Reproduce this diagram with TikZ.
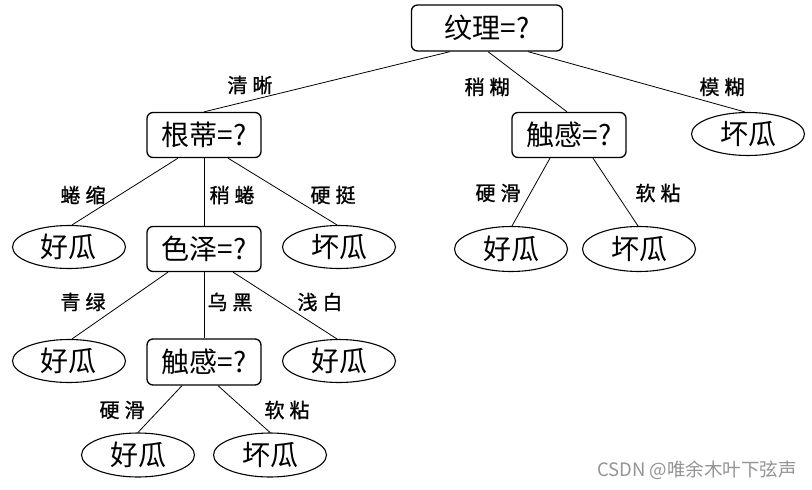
\documentclass[tikz,border=0pt]{standalone}
\usepackage{fontspec}
\newfontfamily\cjk{Noto Sans CJK SC}
\newfontfamily\cjklab[FakeBold=1]{Noto Sans CJK SC}
\usetikzlibrary{shapes.geometric}
\newcommand{\lbl}[2]{#1\hspace{5pt}#2}
\begin{document}
\begin{tikzpicture}[x=1pt,y=-1pt,
  testbox/.style={draw, line width=1.3pt, rounded corners=6pt, minimum width=114pt, minimum height=45pt, inner sep=0pt, font=\cjk\fontsize{28}{28}\selectfont},
  leaf/.style={draw, ellipse, line width=1.1pt, minimum width=113pt, minimum height=43pt, inner sep=0pt, font=\cjk\fontsize{28}{28}\selectfont},
  lab/.style={font=\cjklab\fontsize{20}{20}\selectfont, inner sep=0pt},
  conn/.style={line width=0.8pt}]
\path[fill=white] (0,0) rectangle (812,490);
% nodes
\node[testbox, minimum width=151pt, minimum height=46pt] (root) at (487,28) {纹理=?};
\node[testbox] (gendi) at (204,135) {根蒂=?};
\node[testbox] (chugan1) at (569,135) {触感=?};
\node[leaf] (huai1) at (748,134) {坏瓜};
\node[leaf] (hao1) at (69,247) {好瓜};
\node[testbox] (seze) at (204,249) {色泽=?};
\node[leaf] (huai2) at (339,247) {坏瓜};
\node[leaf, minimum height=45pt] (hao2) at (511,249) {好瓜};
\node[leaf, minimum height=45pt] (huai3) at (639,249) {坏瓜};
\node[leaf] (hao3) at (69,361) {好瓜};
\node[testbox, minimum height=46pt] (chugan2) at (204,362) {触感=?};
\node[leaf] (hao4) at (339,361) {好瓜};
\node[leaf, minimum height=44pt] (hao5) at (138,455) {好瓜};
\node[leaf, minimum height=44pt] (huai4) at (270,455) {坏瓜};
% connectors
\draw[conn] ([xshift=-37pt]root.south) -- (gendi.north);
\draw[conn] ([xshift=1pt]root.south) -- ([xshift=-2pt]chugan1.north);
\draw[conn] ([xshift=41pt]root.south) -- ([xshift=-3pt]huai1.north);
\draw[conn] ([xshift=-26pt]gendi.south) -- ([xshift=3pt]hao1.north);
\draw[conn] (gendi.south) -- (seze.north);
\draw[conn] ([xshift=24pt]gendi.south) -- ([xshift=-2pt]huai2.north);
\draw[conn] ([xshift=-19pt]chugan1.south) -- ([xshift=1pt]hao2.north);
\draw[conn] ([xshift=24pt]chugan1.south) -- ([xshift=-1pt]huai3.north);
\draw[conn] ([xshift=-36pt]seze.south) -- ([xshift=3pt]hao3.north);
\draw[conn] (seze.south) -- (chugan2.north);
\draw[conn] ([xshift=29pt]seze.south) -- ([xshift=-2pt]hao4.north);
\draw[conn] ([xshift=-22pt]chugan2.south) -- (hao5.north);
\draw[conn] ([xshift=14pt]chugan2.south) -- (huai4.north);
% edge labels
\node[lab] (l1) at (250,85) {\lbl{清}{晰}};
\node[lab] (l2) at (487,87) {\lbl{稍}{糊}};
\node[lab] (l3) at (722,87) {\lbl{模}{糊}};
\node[lab] (l4) at (83,195) {\lbl{蜷}{缩}};
\node[lab] (l5) at (232,195) {\lbl{稍}{蜷}};
\node[lab] (l6) at (333,195) {\lbl{硬}{挺}};
\node[lab] (l7) at (498,193) {\lbl{硬}{滑}};
\node[lab] (l8) at (658,193) {\lbl{软}{粘}};
\node[lab] (l9) at (83,302) {\lbl{青}{绿}};
\node[lab] (l10) at (230,302) {\lbl{乌}{黑}};
\node[lab] (l11) at (320,302) {\lbl{浅}{白}};
\node[lab] (l12) at (122,410) {\lbl{硬}{滑}};
\node[lab] (l13) at (287,410) {\lbl{软}{粘}};
% watermark
\node[font=\cjk\fontsize{18.5}{18.5}\selectfont, text=black!42, inner sep=0pt, anchor=east] (wm) at (797,470) {CSDN @唯余木叶下弦声};
\end{tikzpicture}
\end{document}
